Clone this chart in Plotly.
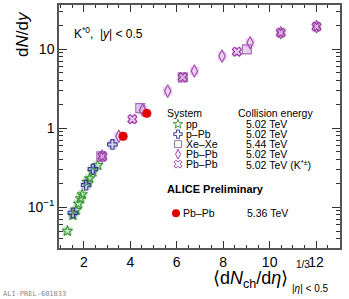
import plotly.graph_objects as go

# ---------------- data ----------------
pp_x = [1.29, 1.53, 1.67, 1.77, 1.86, 1.93, 2.14, 2.25, 2.39, 2.60]
pp_y = [0.050, 0.079, 0.092, 0.111, 0.129, 0.145, 0.209, 0.231, 0.280, 0.340]

ppb_x = [1.53, 2.10, 2.39, 3.23]
ppb_y = [0.085, 0.190, 0.303, 0.622]

xexe_x = [2.75, 4.43, 6.26, 9.02]
xexe_y = [0.44, 1.79, 4.38, 9.9]

pbpb_x = [2.79, 3.51, 4.53, 5.61, 6.76, 7.95, 9.16, 10.48, 12.02]
pbpb_y = [0.443, 0.79, 1.69, 2.94, 5.27, 8.15, 12.0, 16.1, 19.2]

kpm_x = [2.80, 4.09, 6.26, 8.59, 10.48, 12.02]
kpm_y = [0.44, 1.30, 4.40, 9.25, 16.1, 19.2]

pb536_x = [3.69, 4.71]
pb536_y = [0.79, 1.54]
pb536_sys = [0.09, 0.17]

legend_systems = ["pp", "p–Pb", "Xe–Xe", "Pb–Pb", "Pb–Pb"]
legend_energies = ["5.02 TeV", "5.02 TeV", "5.44 TeV", "5.02 TeV", "5.02 TeV (K<sup>*±</sup>)"]

x_ticks = [2, 4, 6, 8, 10, 12]
y_ticks = [0.1, 1, 10]
y_ticktext = ["10<sup>−1</sup>", "1", "10"]
y_minor = [0.04, 0.05, 0.06, 0.07, 0.08, 0.09, 0.2, 0.3, 0.4, 0.5, 0.6, 0.7, 0.8, 0.9,
           2, 3, 4, 5, 6, 7, 8, 9, 20, 30]

# ---------------- geometry ----------------
W, H = 349, 299
L, R, T, B = 59, 340, 5, 247.7


def px(x):
    return (x - L) / (R - L)


def py(y):
    return (B - y) / (B - T)


FONT = "Liberation Sans, Arial, Helvetica, sans-serif"

styles = {
    "pp": dict(sym="star-open", col="#3f9a3f", box="rgba(130,200,120,0.40)", size=8),
    "ppb": dict(sym="cross-open", col="#3a3a96", box="rgba(130,130,200,0.35)", size=8),
    "xexe": dict(sym="square-open", col="#a868b8", box="rgba(205,160,220,0.50)", size=9),
    "pbpb": dict(sym="diamond-tall-open", col="#a244b0", box="rgba(200,140,215,0.40)", size=9),
    "kpm": dict(sym="x-open", col="#9a3aa2", box="rgba(195,130,205,0.40)", size=8),
}

fig = go.Figure()


def add_series(xs, ys, key):
    s = styles[key]
    fig.add_trace(go.Scatter(x=xs, y=ys, mode="markers", showlegend=False, hoverinfo="skip",
                             marker=dict(symbol="square", size=9, color=s["box"], line=dict(width=0))))
    fig.add_trace(go.Scatter(x=xs, y=ys, mode="markers", showlegend=False,
                             marker=dict(symbol=s["sym"], size=s["size"], color=s["col"],
                                         line=dict(width=1.1, color=s["col"]))))


add_series(pp_x, pp_y, "pp")
add_series(ppb_x, ppb_y, "ppb")
add_series(xexe_x, xexe_y, "xexe")
add_series(pbpb_x, pbpb_y, "pbpb")
add_series(kpm_x, kpm_y, "kpm")

# Pb-Pb 5.36 TeV with systematic boxes
fig.add_trace(go.Scatter(x=pb536_x, y=pb536_y, mode="markers", showlegend=False,
                         error_y=dict(type="data", array=pb536_sys, color="rgba(240,140,150,0.6)",
                                      thickness=9, width=0),
                         marker=dict(symbol="circle", size=9, color="#e00000")))

# ---------------- legend (overlay axis in paper-like coords) ----------------
leg_rows_y = [124, 134, 144, 154, 164]
leg_keys = ["pp", "ppb", "xexe", "pbpb", "kpm"]
for k, yy in zip(leg_keys, leg_rows_y):
    s = styles[k]
    fig.add_trace(go.Scatter(x=[px(178)], y=[py(yy)], xaxis="x2", yaxis="y2", mode="markers",
                             showlegend=False, hoverinfo="skip",
                             marker=dict(symbol=s["sym"], size=7, color=s["col"],
                                         line=dict(width=1, color=s["col"]))))
fig.add_trace(go.Scatter(x=[px(176)], y=[py(213)], xaxis="x2", yaxis="y2", mode="markers",
                         showlegend=False, hoverinfo="skip",
                         marker=dict(symbol="circle", size=8, color="#e00000")))

ann = []
LF = 10.5


def text(x, y, t, size=LF, xanchor="left", bold=False, color="black", family=FONT, **kw):
    if bold:
        t = "<b>" + t + "</b>"
    ann.append(dict(x=px(x), y=py(y), xref="paper", yref="paper", text=t, showarrow=False,
                    xanchor=xanchor, yanchor="middle", borderpad=0,
                    font=dict(family=family, size=size, color=color), **kw))


text(166, 113, "System")
text(237, 113, "Collision energy")
for name, en, yy in zip(legend_systems, legend_energies, leg_rows_y):
    text(185, yy, name)
    text(245, yy, en)
text(166, 189, "ALICE Preliminary", bold=True, size=11)
text(182, 213, "Pb–Pb")
text(246, 213, "5.36 TeV")

text(73, 33, "K<sup>*0</sup>,  |<i>y</i>| &lt; 0.5", size=12)

# axis titles
ann.append(dict(x=px(22), y=py(34), xref="paper", yref="paper", text="d<i>N</i>/d<i>y</i>",
                showarrow=False, textangle=-90, xanchor="center", yanchor="middle",
                font=dict(family=FONT, size=17, color="black")))
text(212, 279, "⟨d<i>N</i><sub>ch</sub>/d<i>η</i>⟩", size=18)
text(295, 264, "1/3", size=10)
text(291, 288, "|<i>η</i>| &lt; 0.5", size=10)

# watermark
text(2, 294, "ALI-PREL-601833", size=7, color="#8a8a8a", family="DejaVu Sans Mono, monospace")

axis_common = dict(showgrid=False, zeroline=False, showline=True, linecolor="#555555", linewidth=1.5,
                   mirror="ticks", ticks="inside", tickcolor="#333333", tickwidth=1, automargin=False,
                   tickfont=dict(family=FONT, size=14, color="black"))

fig.update_layout(
    width=W, height=H,
    margin=dict(l=L, r=W - R, t=T, b=H - B, pad=0),
    paper_bgcolor="white", plot_bgcolor="white",
    showlegend=False,
    annotations=ann,
    xaxis=dict(range=[0.93, 13.03], tickvals=x_ticks, ticklen=7,
               minor=dict(dtick=0.5, tick0=0, ticks="inside", ticklen=3.5, tickcolor="#333333", showgrid=False),
               **axis_common),
    yaxis=dict(type="log", range=[-1.515, 1.557], tickvals=y_ticks, ticktext=y_ticktext, ticklen=8,
               minor=dict(tickvals=y_minor, ticks="inside", ticklen=4, tickcolor="#333333", showgrid=False),
               **axis_common),
    xaxis2=dict(overlaying="x", range=[0, 1], visible=False),
    yaxis2=dict(overlaying="y", range=[0, 1], visible=False),
)

fig.write_html("out.html", config={"displayModeBar": False},
               post_script="document.body.style.margin='0px';document.body.style.padding='0px';")
